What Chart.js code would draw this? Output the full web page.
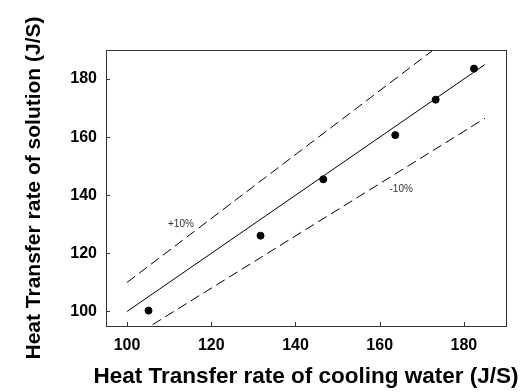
<!DOCTYPE html>
<html>
<head>
<meta charset="utf-8">
<script src="https://cdn.jsdelivr.net/npm/chart.js@4/dist/chart.umd.min.js"></script>
<style>
  html, body { margin: 0; padding: 0; background: #fff; }
  #wrap { width: 521px; height: 392px; }
</style>
</head>
<body>
<div id="wrap"><canvas id="myChart"></canvas></div>
<script>
// measured points (cooling water vs solution)
const coolingWater = [105.1, 131.7, 146.6, 163.7, 173.3, 182.4];
const solution = [100.3, 126.1, 145.5, 160.7, 172.9, 183.6];

// reference lines, drawn between these x values
const lineX = [100, 185];
const perfectLine = [100, 185];
const plus10Line = [110, 203.5];
const minus10Line = [90, 166.5];

const xTicks = [100, 120, 140, 160, 180];
const yTicks = [100, 120, 140, 160, 180];

// label positions in data units
const plusLabel = { text: '+10%', x: 112.8, y: 130 };
const minusLabel = { text: '-10%', x: 165.1, y: 142.1 };

const xTitle = 'Heat Transfer rate of cooling water (J/S)';
const yTitle = 'Heat Transfer rate of solution (J/S)';

const FONT = 'Arial, "Liberation Sans", sans-serif';

const frame = {
    id: 'frame',
    afterDraw(chart) {
        const ctx = chart.ctx;
        const a = chart.chartArea;
        const xs = chart.scales.x, ys = chart.scales.y;
        ctx.save();
        ctx.strokeStyle = '#333';
        ctx.lineWidth = 1;
        ctx.strokeRect(Math.round(a.left) + 0.5, Math.round(a.top) + 0.5,
            Math.round(a.right - a.left), Math.round(a.bottom - a.top));
        // inward tick marks
        ctx.beginPath();
        xTicks.forEach(v => {
            const px = Math.round(xs.getPixelForValue(v)) + 0.5;
            ctx.moveTo(px, a.bottom);
            ctx.lineTo(px, a.bottom - 4);
        });
        yTicks.forEach(v => {
            const py = Math.round(ys.getPixelForValue(v)) + 0.5;
            ctx.moveTo(a.left, py);
            ctx.lineTo(a.left + 4, py);
        });
        ctx.stroke();
        // band labels
        ctx.fillStyle = '#333';
        ctx.font = '10px ' + FONT;
        ctx.textAlign = 'center';
        ctx.textBaseline = 'middle';
        [plusLabel, minusLabel].forEach(l => {
            ctx.fillText(l.text, xs.getPixelForValue(l.x), ys.getPixelForValue(l.y));
        });
        // x title is wider than the plot, so it is drawn here without a width cap
        ctx.fillStyle = '#000';
        ctx.font = 'bold 22.5px ' + FONT;
        ctx.fillText(xTitle, (a.left + a.right) / 2, chart.height - 15);
        ctx.restore();
    }
};

const toXY = (xs, ys) => xs.map((x, i) => ({ x: x, y: ys[i] }));

new Chart(document.getElementById('myChart'), {
    type: 'scatter',
    data: {
        datasets: [
            {
                data: toXY(coolingWater, solution),
                backgroundColor: '#000',
                borderColor: '#000',
                pointRadius: 3.5,
                borderWidth: 1
            },
            {
                type: 'line',
                data: toXY(lineX, perfectLine),
                borderColor: '#000',
                borderWidth: 1,
                pointRadius: 0,
                fill: false
            },
            {
                type: 'line',
                data: toXY(lineX, plus10Line),
                borderColor: '#000',
                borderWidth: 1,
                borderDash: [10, 5],
                pointRadius: 0,
                fill: false
            },
            {
                type: 'line',
                data: toXY(lineX, minus10Line),
                borderColor: '#000',
                borderWidth: 1,
                borderDash: [10, 5],
                pointRadius: 0,
                fill: false
            }
        ]
    },
    options: {
        responsive: true,
        maintainAspectRatio: false,
        animation: false,
        layout: { padding: { top: 50, right: 15, left: 0, bottom: 0 } },
        plugins: { legend: { display: false }, tooltip: { enabled: false } },
        scales: {
            x: {
                type: 'linear',
                min: 95,
                max: 190,
                afterBuildTicks: s => { s.ticks = xTicks.map(v => ({ value: v })); },
                afterFit: s => { s.height = 66; },
                grid: { display: false, drawTicks: false },
                border: { display: false },
                ticks: { color: '#000', padding: 10, font: { family: FONT, size: 16, weight: 'bold' } },
                title: { display: false }
            },
            y: {
                type: 'linear',
                min: 95,
                max: 190,
                afterBuildTicks: s => { s.ticks = yTicks.map(v => ({ value: v })); },
                afterFit: s => { s.width = 106; },
                grid: { display: false, drawTicks: false },
                border: { display: false },
                ticks: { color: '#000', padding: 9, font: { family: FONT, size: 16, weight: 'bold' } },
                title: {
                    display: true,
                    text: yTitle,
                    color: '#000',
                    padding: { top: 22, bottom: 0 },
                    font: { family: FONT, size: 21, weight: 'bold' }
                }
            }
        }
    },
    plugins: [frame]
});
</script>
</body>
</html>
